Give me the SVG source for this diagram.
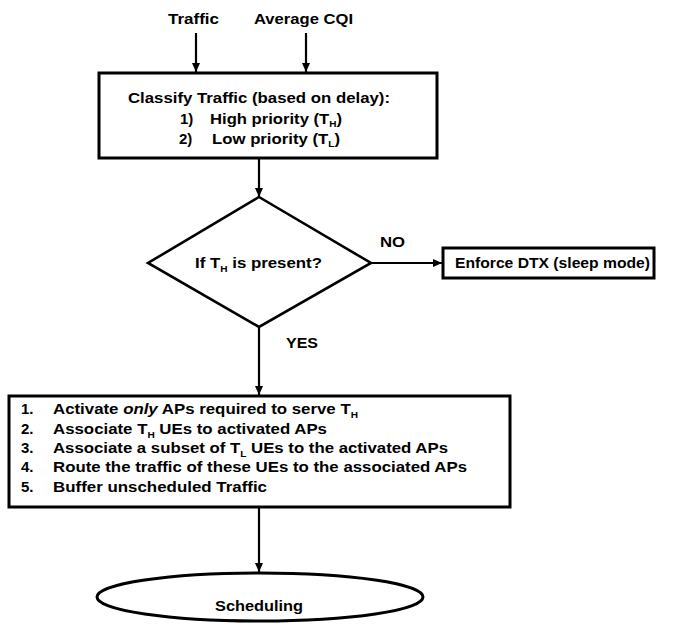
<svg xmlns="http://www.w3.org/2000/svg" width="677" height="626" viewBox="0 0 677 626">
<defs>
<marker id="ah" markerWidth="10" markerHeight="10" refX="9" refY="5" orient="auto" markerUnits="userSpaceOnUse">
<path d="M0,1 L9,5 L0,9 z" fill="#000"/>
</marker>
<style>
text{font-family:"Liberation Sans",Arial,sans-serif;font-weight:bold;font-size:15px;fill:#000}
.sub{font-size:9px}
.box{fill:#fff;stroke:#000;stroke-width:3}
.ln{fill:none;stroke:#000;stroke-width:2.2}
</style>
</defs>
<rect width="677" height="626" fill="#fff"/>
<g id="connectors">
<line class="ln" x1="196" y1="33" x2="196" y2="72" marker-end="url(#ah)"/>
<line class="ln" x1="306" y1="33" x2="306" y2="72" marker-end="url(#ah)"/>
<line class="ln" x1="259" y1="158" x2="259" y2="197" marker-end="url(#ah)"/>
<line class="ln" x1="371" y1="263" x2="442" y2="263" marker-end="url(#ah)"/>
<line class="ln" x1="259" y1="327" x2="259" y2="395" marker-end="url(#ah)"/>
<line class="ln" x1="259" y1="507" x2="259" y2="572" marker-end="url(#ah)"/>
<text x="380" y="247" textLength="25" lengthAdjust="spacingAndGlyphs">NO</text>
<text x="286" y="348" textLength="32" lengthAdjust="spacingAndGlyphs">YES</text>
</g>
<g id="input-traffic"><text x="168" y="24" textLength="51" lengthAdjust="spacingAndGlyphs">Traffic</text></g>
<g id="input-cqi"><text x="254" y="24" textLength="99" lengthAdjust="spacingAndGlyphs">Average CQI</text></g>
<g id="classify">
<rect class="box" x="99" y="73" width="338" height="85"/>
<text x="128" y="103" textLength="262" lengthAdjust="spacingAndGlyphs">Classify Traffic (based on delay):</text>
<text x="180" y="124">1)</text>
<text x="210" y="124" textLength="132" lengthAdjust="spacingAndGlyphs">High priority (T<tspan class="sub" dy="3">H</tspan><tspan dy="-3">)</tspan></text>
<text x="179" y="144">2)</text>
<text x="212" y="144" textLength="128" lengthAdjust="spacingAndGlyphs">Low priority (T<tspan class="sub" dy="3">L</tspan><tspan dy="-3">)</tspan></text>
</g>
<g id="decision">
<polygon points="259,197 371,263 259,327 148,263" fill="#fff" stroke="#000" stroke-width="2.6"/>
<text x="195" y="268" textLength="127" lengthAdjust="spacingAndGlyphs">If T<tspan class="sub" dy="4">H</tspan><tspan dy="-4"> is present?</tspan></text>
</g>
<g id="dtx">
<rect class="box" x="443" y="248" width="211" height="30"/>
<text x="455" y="268" textLength="195" lengthAdjust="spacingAndGlyphs">Enforce DTX (sleep mode)</text>
</g>
<g id="actions">
<rect class="box" x="9" y="396" width="501" height="111"/>
<text x="21" y="414">1.</text><text x="53" y="414" textLength="305" lengthAdjust="spacingAndGlyphs">Activate <tspan font-style="italic">only</tspan> APs required to serve T<tspan class="sub" dy="4">H</tspan></text>
<text x="21" y="434">2.</text><text x="53" y="434" textLength="274" lengthAdjust="spacingAndGlyphs">Associate T<tspan class="sub" dy="4">H</tspan><tspan dy="-4"> UEs to activated APs</tspan></text>
<text x="21" y="453">3.</text><text x="53" y="453" textLength="395" lengthAdjust="spacingAndGlyphs">Associate a subset of T<tspan class="sub" dy="4">L</tspan><tspan dy="-4"> UEs to the activated APs</tspan></text>
<text x="21" y="472">4.</text><text x="53" y="472" textLength="414" lengthAdjust="spacingAndGlyphs">Route the traffic of these UEs to the associated APs</text>
<text x="21" y="492">5.</text><text x="53" y="492" textLength="214" lengthAdjust="spacingAndGlyphs">Buffer unscheduled Traffic</text>
</g>
<g id="scheduling">
<ellipse cx="260" cy="597" rx="163" ry="24" fill="#fff" stroke="#000" stroke-width="3"/>
<text x="215" y="611" textLength="88" lengthAdjust="spacingAndGlyphs">Scheduling</text>
</g>
</svg>
